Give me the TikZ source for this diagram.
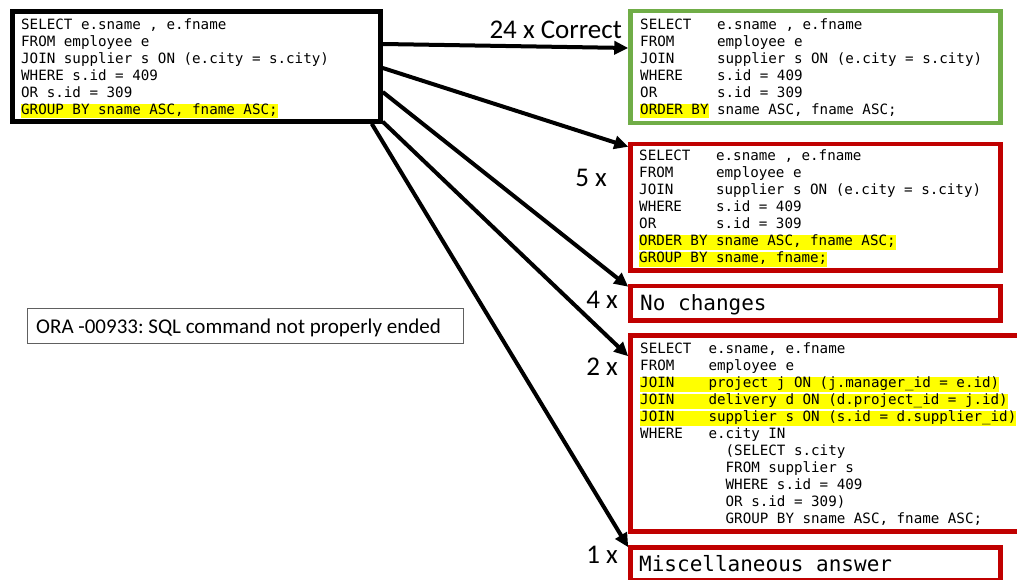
\documentclass[tikz,border=0pt]{standalone}
\usepackage{fontspec}
\setmainfont{Carlito}
\newfontfamily\codefont{DejaVu Sans Mono}
\usetikzlibrary{arrows.meta}
\definecolor{okgreen}{HTML}{70AD47}
\definecolor{badred}{HTML}{C00000}
\definecolor{hlyellow}{HTML}{FFFF00}
\definecolor{msggray}{HTML}{606060}
% width of one character of the code font (0.602em at 14.2pt)
\newlength\cw
\setlength\cw{8.548pt}
\newcommand\kw[2]{\makebox[#1\cw][l]{#2}}
\newcommand\hl[1]{{\setlength\fboxsep{0pt}\colorbox{hlyellow}{\rule[-4pt]{0pt}{14pt}#1}}}
\tikzset{
  sqlbox/.style={draw, line width=4.5pt, fill=white},
  code/.style={font=\codefont\fontsize{14.2}{17}\selectfont, align=left, inner sep=0pt, anchor=north west},
  bigcode/.style={font=\codefont\fontsize{21}{25}\selectfont, inner sep=0pt, anchor=base west},
  count/.style={font=\fontsize{27}{31}\selectfont, inner sep=0pt, anchor=base east},
  arr/.style={line width=4pt, -{Triangle[length=14pt,width=13pt]}},
}
\begin{document}
\frenchspacing
\begin{tikzpicture}[x=1pt,y=-1pt]
\useasboundingbox (0,0) rectangle (1017,580);
\clip (0,0) rectangle (1017,580);
\fill[white] (0,0) rectangle (1017,580);

% submitted query
\node[sqlbox, minimum width=368pt, minimum height=110pt] (src) at (196.5,66.5) {};
\node[code] (srctext) at (21,17.4) {\strut SELECT e.sname , e.fname\\
FROM employee e\\
JOIN supplier s ON (e.city = s.city)\\
WHERE s.id = 409\\
OR s.id = 309\\
\hl{GROUP BY sname ASC, fname ASC;}};

% correct answer
\node[sqlbox, draw=okgreen, minimum width=370pt, minimum height=112pt] (ok) at (815.5,67) {};
\node[code] (oktext) at (640,17.4) {\strut\kw{9}{SELECT}e.sname , e.fname\\
\kw{9}{FROM}employee e\\
\kw{9}{JOIN}supplier s ON (e.city = s.city)\\
\kw{9}{WHERE}s.id = 409\\
\kw{9}{OR}s.id = 309\\
\kw{9}{\hl{ORDER BY}}sname ASC, fname ASC;};

% ORDER BY plus GROUP BY
\node[sqlbox, draw=badred, minimum width=370pt, minimum height=126.5pt] (both) at (815.5,207.25) {};
\node[code] (bothtext) at (639,148.8) {\strut\kw{9}{SELECT}e.sname , e.fname\\
\kw{9}{FROM}employee e\\
\kw{9}{JOIN}supplier s ON (e.city = s.city)\\
\kw{9}{WHERE}s.id = 409\\
\kw{9}{OR}s.id = 309\\
\hl{ORDER BY sname ASC, fname ASC;}\\
\hl{GROUP BY sname, fname;}};

% unchanged
\node[sqlbox, draw=badred, minimum width=370pt, minimum height=34.5pt] (same) at (815.5,303.25) {};
\node[bigcode] (sametext) at (640,310) {No changes};

% rewritten with subquery
\node[sqlbox, draw=badred, minimum width=399.5pt, minimum height=196pt] (sub) at (830.25,433.5) {};
\node[code] (subtext) at (640,341.4) {\strut\kw{8}{SELECT}e.sname, e.fname\\
\kw{8}{FROM}employee e\\
\hl{\kw{8}{JOIN}project j ON (j.manager\_id = e.id)}\\
\hl{\kw{8}{JOIN}delivery d ON (d.project\_id = j.id)}\\
\hl{\kw{8}{JOIN}supplier s ON (s.id = d.supplier\_id)}\\
\kw{8}{WHERE}e.city IN\\
\hspace*{10\cw}(SELECT s.city\\
\hspace*{10\cw}FROM supplier s\\
\hspace*{10\cw}WHERE s.id = 409\\
\hspace*{10\cw}OR s.id = 309)\\
\hspace*{10\cw}GROUP BY sname ASC, fname ASC;};

% other answers
\node[sqlbox, draw=badred, minimum width=370pt, minimum height=33pt] (misc) at (815.5,564) {};
\node[bigcode] (misctext) at (639,571.7) {Miscellaneous answer};

% error message
\node[draw=msggray, line width=1pt, minimum width=436pt, minimum height=35pt] (err) at (245,325.5) {};
\node[font=\fontsize{21}{25}\selectfont, inner sep=0pt, anchor=base west] (errtext) at (36,333.5)
  {ORA -00933: SQL command not properly ended};

% counts
\node[count] (c24) at (622,38.3) {24 x Correct};
\node[count] (c5) at (607,186.7) {5 x};
\node[count] (c4) at (618,308.3) {4 x};
\node[count] (c2) at (618,375) {2 x};
\node[count] (c1) at (618,563.3) {1 x};

% connectors
\draw[arr] ([yshift=-34.75pt]src.north east) -- ([yshift=-39.25pt]ok.north west);
\draw[arr] ([yshift=-58.75pt]src.north east) -- ([yshift=-5pt]both.north west);
\draw[arr] ([yshift=-82.75pt]src.north east) -- ([yshift=-3pt]same.north west);
\draw[arr] ([yshift=2pt]src.south east) -- ([yshift=-23pt]sub.north west);
\draw[arr] ([xshift=-11pt]src.south east) -- ([yshift=-2pt]misc.north west);
\end{tikzpicture}
\end{document}
